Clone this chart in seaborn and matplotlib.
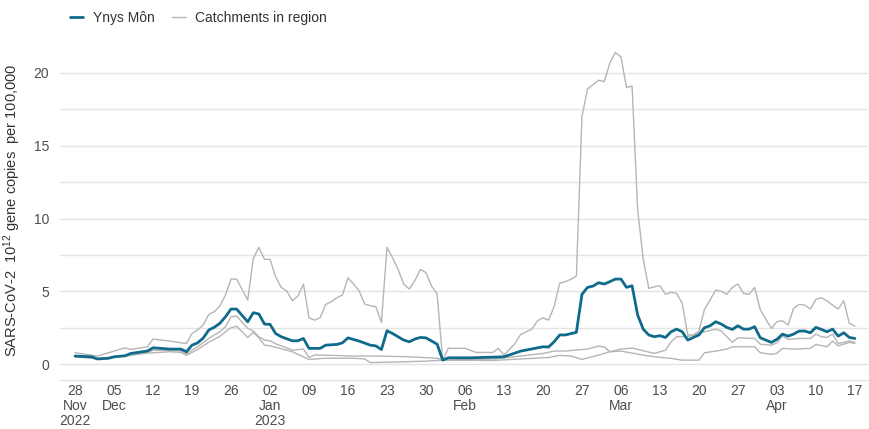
import pandas as pd
import numpy as np
import seaborn as sns
import matplotlib.pyplot as plt
from matplotlib.lines import Line2D

start = pd.Timestamp('2022-11-28')

# days since 28 Nov 2022 and values (SARS-CoV-2 10^12 gene copies per 100,000)
ynys_days = [0, 3, 4, 6, 7, 9, 10, 13, 14, 17, 19, 20, 21, 22, 23, 24, 25, 26, 27, 28,
             29, 31, 32, 33, 34, 35, 36, 37, 39, 40, 41, 42, 44, 45, 47, 48, 49, 51, 53, 54,
             55, 56, 57, 59, 60, 61, 62, 63, 65, 66, 67, 71, 77, 80, 84, 85, 86, 87, 88, 90,
             91, 92, 93, 94, 95, 96, 97, 98, 99, 100, 101, 102, 103, 104, 105, 106, 107, 108, 109, 110,
             111, 112, 113, 114, 115, 116, 117, 118, 119, 120, 121, 122, 123, 124, 125, 126, 127, 128, 129, 130,
             131, 132, 133, 134, 135, 136, 137, 138, 139, 140]
ynys_vals = [0.55, 0.5, 0.35, 0.4, 0.5, 0.57, 0.73, 0.9, 1.12, 1.03, 1.03, 0.85, 1.3, 1.46, 1.78, 2.34, 2.53, 2.8, 3.25, 3.78,
             3.78, 2.9, 3.53, 3.44, 2.75, 2.73, 2.1, 1.88, 1.6, 1.6, 1.76, 1.08, 1.08, 1.3, 1.35, 1.46, 1.8, 1.58, 1.3, 1.25,
             1.0, 2.29, 2.1, 1.65, 1.53, 1.72, 1.83, 1.8, 1.37, 0.27, 0.43, 0.43, 0.5, 0.89, 1.19, 1.17, 1.53, 2.0, 2.0, 2.18,
             4.79, 5.27, 5.36, 5.59, 5.5, 5.66, 5.84, 5.84, 5.27, 5.38, 3.37, 2.4, 2.0, 1.88, 1.95, 1.83, 2.22, 2.4, 2.22, 1.65,
             1.83, 2.0, 2.5, 2.63, 2.91, 2.75, 2.52, 2.38, 2.63, 2.4, 2.4, 2.57, 1.81, 1.65, 1.49, 1.7, 2.06, 1.92, 2.06, 2.27,
             2.27, 2.15, 2.52, 2.38, 2.22, 2.4, 1.92, 2.15, 1.83, 1.76]

catch_a_days = [0, 4, 9, 10, 13, 14, 17, 19, 20, 21, 22, 23, 24, 25, 26, 27, 28, 29, 31, 32,
                33, 34, 35, 36, 37, 38, 39, 40, 41, 42, 43, 44, 45, 46, 47, 48, 49, 50, 51, 52,
                53, 54, 55, 56, 57, 58, 59, 60, 61, 62, 63, 64, 65, 66, 67, 70, 72, 75, 76, 77,
                79, 80, 82, 83, 84, 85, 86, 87, 88, 89, 90, 91, 92, 93, 94, 95, 96, 97, 98, 99,
                100, 101, 102, 103, 104, 105, 106, 107, 108, 109, 110, 111, 112, 113, 114, 115, 116, 117, 118, 119,
                120, 121, 122, 123, 124, 125, 126, 127, 128, 129, 130, 131, 132, 133, 134, 135, 136, 137, 138, 139,
                140]
catch_a_vals = [0.78, 0.55, 1.12, 1.0, 1.19, 1.72, 1.58, 1.46, 1.42, 2.1, 2.34, 2.68, 3.41, 3.6, 4.0, 4.74, 5.84, 5.84, 4.4, 7.26,
                8.02, 7.2, 7.2, 6.0, 5.27, 5.02, 4.35, 4.67, 5.5, 3.18, 3.02, 3.18, 4.1, 4.28, 4.56, 4.74, 5.93, 5.5, 5.02, 4.12,
                4.01, 3.94, 2.86, 8.02, 7.3, 6.5, 5.5, 5.15, 5.73, 6.51, 6.28, 5.36, 4.81, 0.27, 1.08, 1.08, 0.8, 0.8, 1.08, 0.62,
                1.42, 2.04, 2.4, 2.96, 3.18, 3.02, 3.94, 5.55, 5.66, 5.82, 6.05, 17.0, 18.9, 19.2, 19.5, 19.4, 20.67, 21.4, 21.1, 19.0,
                19.1, 10.6, 7.2, 5.2, 5.31, 5.38, 4.79, 4.93, 4.86, 4.17, 2.0, 2.0, 2.27, 3.76, 4.4, 5.09, 5.0, 4.79, 5.27, 5.5,
                4.86, 4.79, 5.27, 3.76, 3.09, 2.45, 2.91, 2.98, 2.68, 3.83, 4.1, 4.05, 3.78, 4.45, 4.56, 4.33, 4.05, 3.78, 4.35, 2.8,
                2.61]

catch_b_days = [0, 4, 7, 10, 13, 14, 17, 19, 20, 21, 22, 24, 25, 26, 27, 28, 29, 31, 32, 33,
                34, 35, 36, 39, 41, 42, 43, 46, 50, 55, 60, 65, 66, 70, 75, 80, 84, 86, 88, 92,
                94, 95, 96, 98, 100, 102, 104, 106, 107, 108, 110, 111, 113, 115, 116, 118, 119, 122, 123, 125,
                126, 127, 128, 130, 132, 133, 134, 135, 136, 137, 138, 139, 140]
catch_b_vals = [0.6, 0.4, 0.45, 0.7, 0.8, 0.95, 0.95, 0.9, 0.7, 0.96, 1.19, 1.76, 2.0, 2.22, 2.57, 3.25, 3.3, 2.45, 2.27, 1.88,
                1.65, 1.6, 1.4, 0.96, 1.03, 0.45, 0.62, 0.6, 0.55, 0.55, 0.5, 0.4, 0.27, 0.3, 0.35, 0.55, 0.73, 0.89, 0.9, 1.03,
                1.24, 1.17, 0.85, 1.03, 1.1, 0.92, 0.73, 0.96, 1.53, 1.88, 1.88, 2.0, 2.22, 2.4, 2.27, 1.49, 1.81, 1.76, 1.37, 1.3,
                1.46, 1.95, 1.7, 1.76, 1.76, 2.06, 1.88, 1.83, 2.06, 1.42, 1.49, 1.58, 1.49]

catch_c_days = [0, 4, 10, 13, 17, 19, 20, 22, 24, 26, 27, 28, 29, 31, 32, 33, 34, 35, 39, 42,
                45, 50, 52, 53, 58, 63, 66, 75, 80, 85, 87, 89, 91, 94, 96, 98, 102, 104, 107, 109,
                112, 113, 115, 117, 118, 122, 123, 125, 126, 127, 129, 132, 133, 135, 136, 137, 138, 139, 140]
catch_c_vals = [0.5, 0.35, 0.6, 0.75, 0.85, 0.8, 0.6, 1.0, 1.5, 1.9, 2.22, 2.5, 2.6, 1.83, 2.18, 1.81, 1.3, 1.26, 0.85, 0.32,
                0.4, 0.4, 0.35, 0.1, 0.15, 0.2, 0.27, 0.25, 0.35, 0.45, 0.6, 0.55, 0.32, 0.62, 0.85, 0.89, 0.62, 0.5, 0.39, 0.27,
                0.27, 0.78, 0.89, 1.03, 1.19, 1.19, 0.78, 0.67, 0.73, 1.08, 1.03, 1.08, 1.35, 1.19, 1.58, 1.26, 1.37, 1.49, 1.42]

tick_days = [0, 7, 14, 21, 28, 35, 42, 49, 56, 63, 70, 77, 84, 91, 98, 105, 112, 119, 126, 133, 140]
tick_labels = ['28\nNov\n2022', '05\nDec', '12', '19', '26', '02\nJan\n2023', '09', '16', '23', '30',
               '06\nFeb', '13', '20', '27', '06\nMar', '13', '20', '27', '03\nApr', '10', '17']

teal = '#0f6a8b'
grey = '#b5b5b5'
text_grey = '#4d4d4d'

sns.set_theme(style='white')
plt.rcParams['font.family'] = ['Liberation Sans', 'DejaVu Sans']
plt.rcParams['mathtext.fontset'] = 'custom'
plt.rcParams['mathtext.rm'] = 'Liberation Sans'
plt.rcParams['mathtext.it'] = 'Liberation Sans:italic'


def to_dates(days):
    return start + pd.to_timedelta(days, unit='D')


fig = plt.figure(figsize=(8.7, 4.29), dpi=100)
ax = fig.add_axes([0.069, 0.114, 0.929, 0.793])

for d, v in [(catch_a_days, catch_a_vals), (catch_b_days, catch_b_vals), (catch_c_days, catch_c_vals)]:
    sns.lineplot(x=to_dates(d), y=v, ax=ax, color=grey, lw=1.0)
sns.lineplot(x=to_dates(ynys_days), y=ynys_vals, ax=ax, color=teal, lw=2.0)

ax.set_xlim(start - pd.Timedelta(days=2.7), start + pd.Timedelta(days=142.4))
ax.set_ylim(-1.1, 22.27)
ax.set_yticks([0, 5, 10, 15, 20])
ax.set_yticks([2.5, 7.5, 12.5, 17.5], minor=True)
ax.grid(True, which='both', axis='y', color='#e4e4e4', lw=1.0)
ax.grid(False, axis='x')
ax.set_axisbelow(True)

ax.set_xticks(to_dates(tick_days))
ax.set_xticklabels(tick_labels, linespacing=1.1)
ax.tick_params(axis='both', length=0, labelsize=10, labelcolor=text_grey)
ax.tick_params(axis='x', pad=3)
ax.tick_params(axis='y', pad=8)

for s in ['top', 'right', 'left']:
    ax.spines[s].set_visible(False)
ax.spines['bottom'].set_color('#e4e4e4')
ax.spines['bottom'].set_linewidth(1.0)

ax.set_xlabel('')
ax.set_ylabel('SARS-CoV-2  $10^{12}$ gene copies  per 100,000', fontsize=10.5, color='#333333')
ax.yaxis.set_label_coords(-0.046, 0.5)

handles = [Line2D([], [], color=teal, lw=2.0), Line2D([], [], color=grey, lw=1.0)]
fig.legend(handles, ['Ynys Môn', 'Catchments in region'], loc='center left',
           bbox_to_anchor=(0.072, 0.958), ncol=2, frameon=False, fontsize=10,
           handlelength=1.0, handletextpad=0.7, columnspacing=1.2, borderpad=0, labelcolor='#333333')

plt.savefig('out.png', dpi=100)
plt.close()
